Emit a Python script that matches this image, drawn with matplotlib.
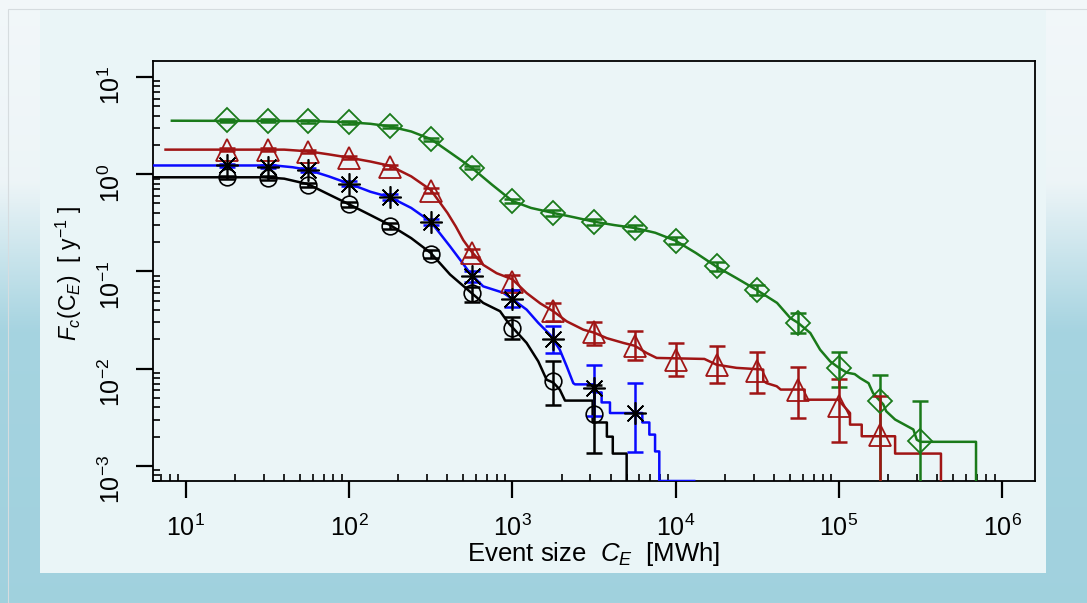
import numpy as np
import matplotlib
matplotlib.use("Agg")
import matplotlib.pyplot as plt
from matplotlib.patches import Rectangle
from matplotlib.ticker import LogLocator, NullFormatter

plt.rcParams['font.family'] = ['Liberation Sans', 'DejaVu Sans']
plt.rcParams['mathtext.fontset'] = 'custom'
plt.rcParams['mathtext.rm'] = 'Liberation Sans'
plt.rcParams['mathtext.it'] = 'Liberation Sans:italic'
plt.rcParams['mathtext.bf'] = 'Liberation Sans:bold'

# event sizes where the markers sit [MWh]
ce = [17.8, 31.6, 56.2, 100, 178, 316, 562, 1000, 1780, 3160, 5620,
      10000, 17800, 31600, 56200, 100000, 178000, 316000]

# black circles
circ_y = [0.93, 0.91, 0.78, 0.49, 0.295, 0.152, 0.060, 0.026, 0.0075, 0.0034]
circ_lo = [0.89, 0.87, 0.74, 0.46, 0.275, 0.138, 0.049, 0.0202, 0.0042, 0.00136]
circ_hi = [0.97, 0.95, 0.82, 0.52, 0.315, 0.166, 0.070, 0.0337, 0.0121, 0.0068]

# blue line, asterisks
ast_y = [1.23, 1.20, 1.11, 0.80, 0.58, 0.325, 0.089, 0.052, 0.0204, 0.0064, 0.0035]
ast_lo = [1.18, 1.15, 1.05, 0.75, 0.54, 0.30, 0.078, 0.043, 0.0145, 0.0033, 0.00138]
ast_hi = [1.28, 1.25, 1.17, 0.85, 0.62, 0.35, 0.100, 0.065, 0.0273, 0.011, 0.0072]

# red triangles
tri_y = [1.78, 1.78, 1.70, 1.48, 1.19, 0.68, 0.156, 0.077, 0.039, 0.0237, 0.017,
         0.0124, 0.011, 0.0094, 0.0061, 0.0041, 0.0021]
tri_lo = [1.72, 1.72, 1.64, 1.42, 1.13, 0.64, 0.14, 0.065, 0.031, 0.0176, 0.0124,
          0.0084, 0.0072, 0.0056, 0.0031, 0.00175, 1e-5]
tri_hi = [1.84, 1.84, 1.76, 1.54, 1.25, 0.72, 0.172, 0.093, 0.047, 0.030, 0.0242,
          0.0185, 0.0170, 0.0147, 0.0104, 0.0079, 0.0053]

# green diamonds
dia_y = [3.57, 3.55, 3.49, 3.41, 3.10, 2.30, 1.17, 0.53, 0.40, 0.325, 0.28, 0.207,
         0.113, 0.065, 0.0296, 0.0102, 0.0047, 0.0018]
dia_lo = [3.45, 3.43, 3.37, 3.29, 2.99, 2.22, 1.12, 0.50, 0.375, 0.30, 0.26, 0.19,
          0.102, 0.057, 0.0233, 0.0065, 1e-5, 1e-5]
dia_hi = [3.69, 3.67, 3.61, 3.53, 3.21, 2.38, 1.22, 0.56, 0.425, 0.35, 0.30, 0.225,
          0.124, 0.073, 0.0375, 0.0149, 0.0086, 0.0046]

# empirical curves (x in MWh, y in 1/yr)
blk_x = [6, 30, 40, 56, 75, 100, 135, 178, 240, 316, 415, 562, 662, 840, 944, 1222,
         1440, 1620, 1780, 1950, 2100, 3100, 3100, 3790, 3790, 4120, 4120, 5010, 5010]
blk_y = [0.93, 0.93, 0.90, 0.79, 0.62, 0.49, 0.38, 0.30, 0.22, 0.155, 0.093, 0.060,
         0.0475, 0.039, 0.0296, 0.0184, 0.0119, 0.0077, 0.0072, 0.0061, 0.0047, 0.0047,
         0.0028, 0.0028, 0.0020, 0.0020, 0.00134, 0.00134, 0.0005]

blu_x = [6, 35, 45, 56, 75, 100, 135, 178, 240, 316, 415, 478, 550, 662, 879, 1000,
         1222, 1440, 1700, 1950, 2150, 2360, 2420, 3130, 3130, 3520, 3520, 3960, 3960,
         6250, 6250, 6900, 6900, 7480, 7480, 7940, 7940, 13000]
blu_y = [1.23, 1.23, 1.18, 1.11, 0.95, 0.80, 0.66, 0.58, 0.45, 0.325, 0.181, 0.132,
         0.096, 0.0703, 0.0604, 0.052, 0.0405, 0.0296, 0.0224, 0.0157, 0.0106, 0.0071,
         0.0069, 0.0069, 0.0057, 0.0057, 0.0045, 0.0045, 0.0035, 0.0035, 0.0028, 0.0028,
         0.0021, 0.0021, 0.00141, 0.00141, 0.0007, 0.0007]

red_x = [7.5, 40, 56, 75, 100, 135, 178, 240, 316, 400, 450, 500, 562, 662, 800, 1000,
         1222, 1480, 1778, 2150, 2720, 3162, 3790, 4790, 5623, 6640, 7650, 15000, 17783,
         23600, 34400, 34400, 36100, 41600, 44000, 61700, 61700, 99000, 109000, 117000,
         117000, 138000, 138000, 221000, 221000, 422000, 422000]
red_y = [1.79, 1.79, 1.72, 1.60, 1.48, 1.35, 1.22, 0.95, 0.69, 0.40, 0.29, 0.21, 0.160,
         0.117, 0.096, 0.083, 0.060, 0.047, 0.039, 0.0307, 0.0252, 0.0235, 0.0206, 0.0184,
         0.0172, 0.0145, 0.0129, 0.0126, 0.011, 0.0102, 0.0098, 0.0075, 0.0071, 0.0066,
         0.0061, 0.0061, 0.0048, 0.0048, 0.0040, 0.0035, 0.00266, 0.00266, 0.00202,
         0.00202, 0.00134, 0.00134, 0.0005]

grn_x = [8.2, 60, 100, 135, 178, 240, 316, 420, 562, 750, 1000, 1300, 1778, 2400, 3162,
         4200, 5623, 7500, 10000, 13300, 17783, 23700, 31623, 41800, 50300, 56234, 66800,
         76700, 88400, 100000, 112000, 125000, 135000, 152000, 162000, 177828, 187000,
         195000, 221000, 286000, 300000, 316228, 692000, 692000]
grn_y = [3.55, 3.52, 3.42, 3.30, 3.10, 2.75, 2.30, 1.65, 1.17, 0.78, 0.53, 0.45, 0.40,
         0.36, 0.325, 0.30, 0.28, 0.25, 0.207, 0.155, 0.112, 0.085, 0.064, 0.0475, 0.0333,
         0.0296, 0.0233, 0.0157, 0.0119, 0.0102, 0.0091, 0.0088, 0.0080, 0.0071, 0.0056,
         0.0047, 0.0043, 0.00365, 0.0030, 0.00237, 0.00186, 0.00177, 0.00177, 0.0005]

BLUE = '#0a0aff'
RED = '#a01515'
GREEN = '#1a7a1a'

fig = plt.figure(figsize=(10.87, 6.03), dpi=100)

# background: light top fading into light blue at the bottom
bg = fig.add_axes([0, 0, 1, 1], zorder=-10)
rows = np.linspace(0, 1, 300)
stops = [0.0, 0.30, 0.55, 1.0]
cols = np.array([[0.95, 0.97, 0.98], [0.93, 0.96, 0.97],
                 [0.65, 0.83, 0.88], [0.63, 0.82, 0.87]])
grad = np.stack([np.interp(rows, stops, cols[:, k]) for k in range(3)], axis=1)
bg.imshow(grad[:, None, :], aspect='auto', extent=[0, 1, 0, 1])
bg.axis('off')
fig.patches.append(Rectangle((8 / 1087, 0), 1.0, 1 - 9 / 603, transform=fig.transFigure,
                             fill=False, edgecolor='#d6dcdf', lw=0.8, zorder=-5))
fig.patches.append(Rectangle((40 / 1087, 1 - 573 / 603), 1006 / 1087, 563 / 603,
                             transform=fig.transFigure, facecolor='#eaf5f7',
                             edgecolor='none', zorder=-4))

ax = fig.add_axes([152.5 / 1087, 1 - 481 / 603, 882.5 / 1087, 420 / 603])
ax.set_facecolor('#ebf5f7')
ax.set_xscale('log')
ax.set_yscale('log')

ax.plot(blk_x, blk_y, color='black', lw=1.8, zorder=3)
ax.plot(blu_x, blu_y, color=BLUE, lw=1.8, zorder=3)
ax.plot(red_x, red_y, color=RED, lw=1.8, zorder=3)
ax.plot(grn_x, grn_y, color=GREEN, lw=1.8, zorder=3)

def marks(y, lo, hi, ecol, mcol, marker, ms, mew):
    x = np.array(ce[:len(y)])
    y = np.array(y)
    err = [y - np.array(lo), np.array(hi) - y]
    ax.errorbar(x, y, yerr=err, fmt='none', ecolor=ecol, elinewidth=1.8,
                capsize=6, capthick=1.8, zorder=4)
    ax.plot(x, y, ls='none', marker=marker, ms=ms, mfc='none', mec=mcol,
            mew=mew, zorder=5)

marks(dia_y, dia_lo, dia_hi, GREEN, GREEN, 'D', 12, 1.3)
marks(tri_y, tri_lo, tri_hi, RED, RED, '^', 15.5, 1.3)
marks(ast_y, ast_lo, ast_hi, BLUE, 'black', (8, 2, 0), 16, 1.2)
marks(circ_y, circ_lo, circ_hi, 'black', 'black', 'o', 12, 1.2)

ax.set_xlim(6.24, 1.59e6)
ax.set_ylim(7.0e-4, 14.6)

ax.xaxis.set_major_locator(LogLocator(base=10, numticks=20))
ax.xaxis.set_minor_locator(LogLocator(base=10, subs=np.arange(2, 10), numticks=20))
ax.yaxis.set_major_locator(LogLocator(base=10, numticks=20))
ax.yaxis.set_minor_locator(LogLocator(base=10, subs=np.arange(2, 10), numticks=20))
ax.xaxis.set_minor_formatter(NullFormatter())
ax.yaxis.set_minor_formatter(NullFormatter())

ax.tick_params(which='major', direction='out', length=12, width=1.6, labelsize=18)
ax.tick_params(which='minor', direction='in', length=5, width=1.2)
ax.tick_params(axis='x', which='major', pad=12)
ax.tick_params(axis='y', which='major', pad=8, labelrotation=90)
for sp in ax.spines.values():
    sp.set_linewidth(1.3)

ax.set_xlabel(r'Event size  $C_E$  [MWh]', fontsize=18.5)
ax.xaxis.set_label_coords(0.5, -0.14)
ax.set_ylabel(r'$F_c(\mathrm{C}_E)$  [ y$^{-1}$ ]', fontsize=16.5)
ax.yaxis.set_label_coords(-0.078, 0.495)

fig.savefig('out.png', dpi=100)
